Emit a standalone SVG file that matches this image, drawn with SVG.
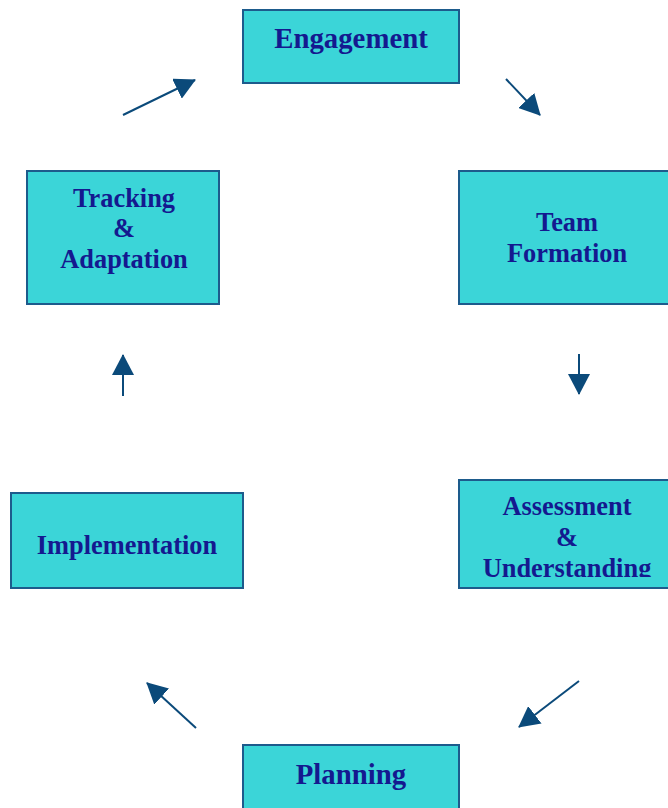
<svg xmlns="http://www.w3.org/2000/svg" width="668" height="808" viewBox="0 0 668 808">
<style>
.box{fill:#3bd5d8;stroke:#1d5b8c;stroke-width:2}
.t{font-family:"Liberation Serif","Times New Roman",serif;font-weight:bold;fill:#14198f;text-anchor:middle;font-size:26.4px}
.big{font-size:28.8px}
.c{stroke:#0b4a7a;stroke-width:2;fill:none;marker-end:url(#ah)}
</style>
<defs>
<marker id="ah" markerUnits="userSpaceOnUse" markerWidth="22" markerHeight="22" refX="20" refY="11" orient="auto">
<path d="M0,0 L21,11 L0,22 z" fill="#0b4a7a"/>
</marker>
<clipPath id="clipU"><rect x="459" y="480" width="220" height="97"/></clipPath>
</defs>
<rect width="668" height="808" fill="#ffffff"/>
<g id="engagement">
<rect class="box" x="243" y="10" width="216" height="73"/>
<text class="t big" x="351" y="48">Engagement</text>
</g>
<g id="team-formation">
<rect class="box" x="459" y="171" width="220" height="133"/>
<text class="t" x="567" y="231">Team</text>
<text class="t" x="567" y="262">Formation</text>
</g>
<g id="assessment">
<rect class="box" x="459" y="480" width="220" height="108"/>
<g clip-path="url(#clipU)">
<text class="t" x="567" y="515">Assessment</text>
<text class="t" x="567" y="546">&amp;</text>
<text class="t" x="567" y="577">Understanding</text>
</g>
</g>
<g id="planning">
<rect class="box" x="243" y="745" width="216" height="80"/>
<text class="t big" x="351" y="784">Planning</text>
</g>
<g id="implementation">
<rect class="box" x="11" y="493" width="232" height="95"/>
<text class="t" x="127" y="554">Implementation</text>
</g>
<g id="tracking">
<rect class="box" x="27" y="171" width="192" height="133"/>
<text class="t" x="124" y="207">Tracking</text>
<text class="t" x="124" y="237">&amp;</text>
<text class="t" x="124" y="268">Adaptation</text>
</g>
<g id="connectors">
<line class="c" x1="123" y1="115" x2="195" y2="80"/>
<line class="c" x1="506" y1="79" x2="540" y2="115"/>
<line class="c" x1="579" y1="354" x2="579" y2="394"/>
<line class="c" x1="579" y1="681" x2="519" y2="727"/>
<line class="c" x1="196" y1="728" x2="147" y2="683"/>
<line class="c" x1="123" y1="396" x2="123" y2="355"/>
</g>
</svg>
